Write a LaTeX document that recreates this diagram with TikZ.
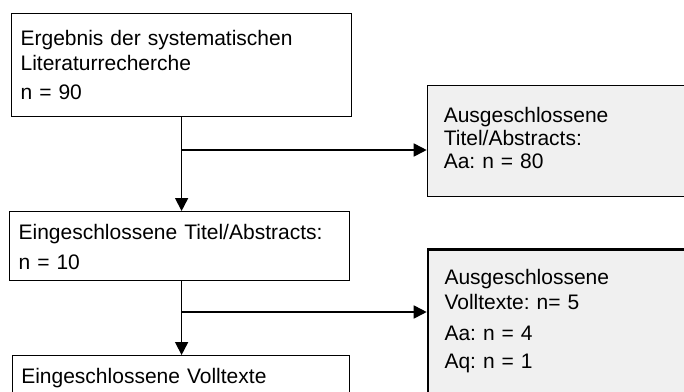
\documentclass[tikz,border=0pt]{standalone}
\usepackage{fontspec}
\setmainfont{Liberation Sans}
\usepackage{tikz}
\usetikzlibrary{arrows.meta}
\definecolor{boxgray}{RGB}{240,240,240}
\frenchspacing

\begin{document}
\begin{tikzpicture}[x=1pt,y=-1pt,>={Triangle[length=13pt,width=13pt]},line width=1.7pt,
  flow box/.style={draw,line width=1.2pt,anchor=north west,inner xsep=9pt,inner ysep=0pt,
    text width=322pt,align=left,font=\fontsize{21}{25}\selectfont},
  excl box/.style={flow box,fill=boxgray,inner xsep=16.5pt,text width=300pt}]

  \useasboundingbox (0,0) rectangle (684,391);

  \node[flow box,text height=32pt,text depth=71pt] (erg) at (11,13)
    {Ergebnis der systematischen\\Literaturrecherche\\[4pt]n = 90};
  \node[flow box,text height=28pt,text depth=40.5pt] (ein) at (9,211)
    {Eingeschlossene Titel/Abstracts:\\[5pt]n = 10};
  \node[flow box,text width=319pt,text height=27.7pt,text depth=60pt] (voll) at (11.7,355)
    {Eingeschlossene Volltexte};

  \node[excl box,text height=36.7pt,text depth=74.3pt,
    font=\fontsize{21}{23}\selectfont] (ausA) at (426.7,85)
    {Ausgeschlossene\\Titel/Abstracts:\\Aa: n = 80};
  \node[excl box,line width=2.6pt,text height=35pt,text depth=120pt] (ausV) at (426.7,248.3)
    {Ausgeschlossene\\Volltexte: n= 5\\[6pt]Aa: n = 4\\[3pt]Aq: n = 1};

  \coordinate (split1) at (erg.south |- 0,150);
  \coordinate (split2) at (erg.south |- 0,312);

  \draw[->] (erg.south) -- (erg.south |- ein.north);
  \draw[->] (split1) -- (split1 -| ausA.west);
  \draw[->] (ein.south -| erg.south) -- (erg.south |- voll.north);
  \draw[->] (split2) -- (split2 -| ausV.west);
\end{tikzpicture}
\end{document}
